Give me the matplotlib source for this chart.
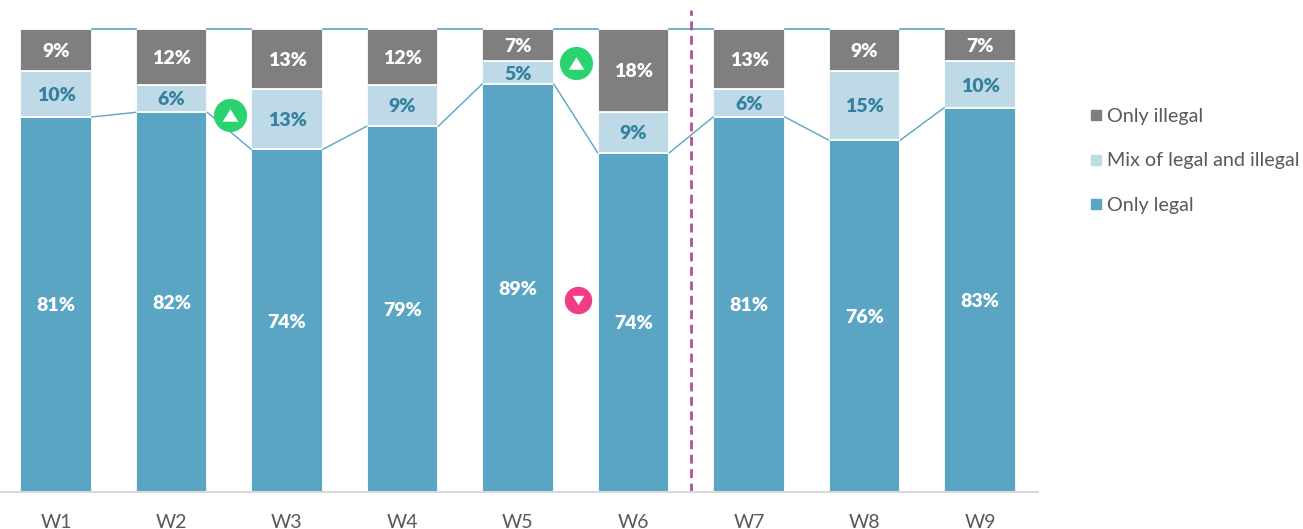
# Weekly share of legal / illegal stacked bars
import matplotlib
matplotlib.use('Agg')
import matplotlib.pyplot as plt
from matplotlib.lines import Line2D
import numpy as np

plt.rcParams['font.family'] = ['Lato', 'DejaVu Sans']

weeks = ['W1', 'W2', 'W3', 'W4', 'W5', 'W6', 'W7', 'W8', 'W9']
only_legal = np.array([81, 82, 74, 79, 89, 74, 81, 76, 83])
mix = np.array([10, 6, 13, 9, 5, 9, 6, 15, 10])
only_illegal = np.array([9, 12, 13, 12, 7, 18, 13, 9, 7])

blue = '#5AA5C3'
light = '#BDDAE6'
grey = '#7F7F7F'
text_grey = '#595959'
label_blue = '#35809F'

# the bars are stacked to 100% (some labels add up to 101)
total = only_legal + mix + only_illegal
legal_pct = only_legal / total * 100
mix_pct = mix / total * 100
illegal_pct = only_illegal / total * 100

fig = plt.figure(figsize=(13.03, 5.29), dpi=100)
ax = fig.add_axes([0, 37 / 529, 1038 / 1303, 492 / 529])

x = np.arange(len(weeks))
w = 0.62
ax.bar(x, legal_pct, w, color=blue, edgecolor='white', linewidth=1.3)
ax.bar(x, mix_pct, w, bottom=legal_pct, color=light, edgecolor='white', linewidth=1.3)
ax.bar(x, illegal_pct, w, bottom=legal_pct + mix_pct, color=grey, edgecolor='white', linewidth=1.3)

# series lines between the bars
for i in range(len(weeks) - 1):
    xs = [i + w / 2, i + 1 - w / 2]
    ax.plot(xs, [legal_pct[i], legal_pct[i + 1]], color=blue, lw=1)
    ax.plot(xs, [100, 100], color=blue, lw=1.2)

label_font = dict(ha='center', va='center_baseline', fontsize=14, fontweight='heavy')
for i in range(len(weeks)):
    ax.text(i, legal_pct[i] / 2, f'{only_legal[i]}%', color='white', **label_font)
    ax.text(i, legal_pct[i] + mix_pct[i] / 2, f'{mix[i]}%', color=label_blue, **label_font)
    ax.text(i, legal_pct[i] + mix_pct[i] + illegal_pct[i] / 2, f'{only_illegal[i]}%', color='white', **label_font)

# divider between W6 and W7
ax.plot([5.5, 5.5], [0, 104.2], color='#B5519B', lw=2, linestyle=(0, (3.2, 2)))

# up / down icons
up = [(-1, -0.8), (1, -0.8), (0, 0.8)]
down = [(-1, 0.8), (1, 0.8), (0, -0.8)]
ax.scatter([1.506, 4.502], [81.4, 92.66], s=570, color='#2BD36F', zorder=5, linewidths=0)
ax.scatter([1.506, 4.502], [81.4, 92.66], s=125, marker=up, color='white', zorder=6, linewidths=0)
ax.scatter([4.518], [41.5], s=390, color='#F23D86', zorder=5, linewidths=0)
ax.scatter([4.518], [41.5], s=70, marker=down, color='white', zorder=6, linewidths=0)

ax.set_xlim(-56 / 115.5, (1038 - 56) / 115.5)
ax.set_ylim(0, 492 / 4.63)
ax.set_xticks(x)
ax.set_xticklabels(weeks, fontsize=14, color=text_grey)
ax.tick_params(axis='x', length=0, pad=16)
ax.set_yticks([])
for s in ['top', 'left', 'right']:
    ax.spines[s].set_visible(False)
ax.spines['bottom'].set_color('#D9D9D9')
ax.spines['bottom'].set_linewidth(1.5)

handles = [Line2D([], [], linestyle='none', marker='s', markersize=7, color=c) for c in [grey, light, blue]]
fig.legend(handles, ['Only illegal', 'Mix of legal and illegal', 'Only legal'],
           loc='center left', bbox_to_anchor=(1089 / 1303, 1 - 161 / 529), frameon=False,
           fontsize=14.2, labelcolor=text_grey, labelspacing=1.38, handlelength=0.7, handletextpad=0.2,
           borderpad=0, borderaxespad=0)

plt.savefig('out.png', dpi=100)
